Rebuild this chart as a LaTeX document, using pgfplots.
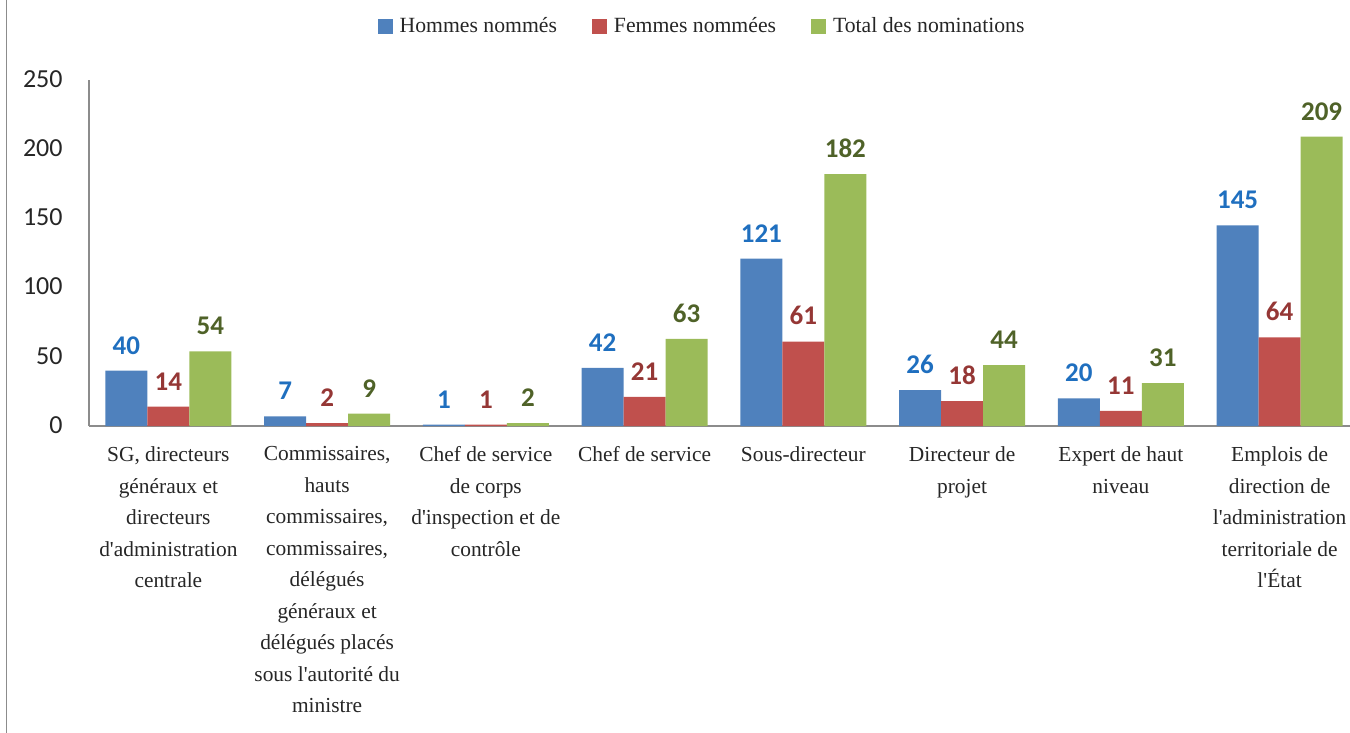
\documentclass[border=0pt]{standalone}
\usepackage{fontspec}
\setmainfont{Liberation Serif}[Ligatures=TeXOff]
\newfontfamily\carlito{Carlito}
\usepackage{pgfplots}
\pgfplotsset{compat=1.18}

\definecolor{hbar}{HTML}{4F81BD}
\definecolor{fbar}{HTML}{C0504D}
\definecolor{tbar}{HTML}{9BBB59}
\definecolor{hlab}{HTML}{1F6FBF}
\definecolor{flab}{HTML}{953735}
\definecolor{tlab}{HTML}{4F6228}
\definecolor{axgray}{HTML}{8C8C8C}

\begin{document}
\begin{tikzpicture}
\path[use as bounding box] (-44.5pt,-153.5pt) rectangle (630.5pt,213pt);
\begin{axis}[
  scale only axis, width=635pt, height=173pt,
  ybar=0pt, bar width=21pt,
  xmin=-0.5, xmax=7.5, ymin=0, ymax=250,
  enlargelimits=false, clip=false,
  axis lines*=left,
  axis line style={draw=axgray, line width=0.75pt},
  major tick length=0pt,
  ytick={0,50,...,250},
  xtick={0,...,7},
  /pgf/number format/assume math mode=true,
  yticklabel style={font=\carlito\fontsize{13}{13}\selectfont, text=black!85, anchor=east, inner sep=0pt, xshift=-13pt, yshift=0.5pt},
  xticklabel style={align=center, anchor=north, font=\fontsize{10.7}{15.75}\selectfont, text=black!85, yshift=-6.8pt},
  xticklabels={
    {SG, directeurs\\généraux et\\directeurs\\d'administration\\centrale},
    {Commissaires,\\hauts\\commissaires,\\commissaires,\\délégués\\généraux et\\délégués placés\\sous l'autorité du\\ministre},
    {Chef de service\\de corps\\d'inspection et de\\contrôle},
    {Chef de service},
    {Sous-directeur},
    {Directeur de\\projet},
    {Expert de haut\\niveau},
    {Emplois de\\direction de\\l'administration\\territoriale de\\l'État}},
  nodes near coords,
  nodes near coords style={font=\carlito\bfseries\fontsize{13.5}{13.5}\selectfont, anchor=south, inner sep=0pt, yshift=8pt},
  legend columns=3,
  legend style={draw=none, fill=none, at={(0.4835,1.1546)}, anchor=center,
    font=\fontsize{10.85}{12}\selectfont, text=black!85,
    /tikz/every odd column/.append style={column sep=1.5pt},
    /tikz/every even column/.append style={column sep=15.5pt}},
  legend image code/.code={\fill[#1] (0pt,-3.75pt) rectangle (7.5pt,3.75pt);},
]
\addplot[fill=hbar, draw=none, every node near coord/.append style={text=hlab}] coordinates {
  (0,40) (1,7) (2,1) (3,42) (4,121) (5,26) (6,20) (7,145)};
\addplot[fill=fbar, draw=none, every node near coord/.append style={text=flab}] coordinates {
  (0,14) (1,2) (2,1) (3,21) (4,61) (5,18) (6,11) (7,64)};
\addplot[fill=tbar, draw=none, every node near coord/.append style={text=tlab}] coordinates {
  (0,54) (1,9) (2,2) (3,63) (4,182) (5,44) (6,31) (7,209)};
\legend{Hommes nommés, Femmes nommées, Total des nominations}
\end{axis}
\draw[axgray, line width=0.75pt] (-41.25pt,-153.5pt) -- (-41.25pt,213pt);
\end{tikzpicture}
\end{document}
